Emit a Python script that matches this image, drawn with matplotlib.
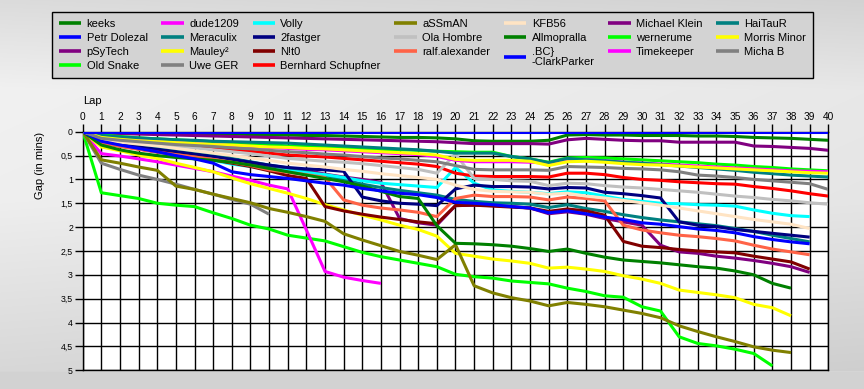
import numpy as np
import matplotlib
matplotlib.use("Agg")
import matplotlib.pyplot as plt

plt.rcParams['font.family'] = ['Liberation Sans', 'DejaVu Sans']

# ---------------- data ----------------
laps_label = "Lap"
y_label = "Gap (in mins)"
x_ticks = list(range(0, 41))
y_ticks = [0, 0.5, 1, 1.5, 2, 2.5, 3, 3.5, 4, 4.5, 5]
y_tick_labels = ["0", "0,5", "1", "1,5", "2", "2,5", "3", "3,5", "4", "4,5", "5"]

keeks = [0, 0.01, 0.02, 0.03, 0.03, 0.04, 0.04, 0.05, 0.05, 0.06, 0.07, 0.07, 0.08, 0.08, 0.09, 0.10, 0.11, 0.12, 0.12, 0.13,
         0.15, 0.19, 0.20, 0.20, 0.20, 0.18, 0.07, 0.06, 0.07, 0.07, 0.08, 0.08, 0.08, 0.09, 0.09, 0.10, 0.12, 0.13, 0.14, 0.16, 0.18]
petr_dolezal = [0, 0, 0, 0, 0, 0, 0, 0, 0, 0, 0, 0, 0, 0, 0, 0, 0, 0, 0, 0,
                0, 0, 0, 0, 0, 0, 0, 0, 0, 0, 0, 0, 0, 0, 0, 0, 0, 0, 0, 0, 0]
psytech = [0, 0.20, 0.29, 0.36, 0.42, 0.48, 0.54, 0.59, 0.64, 0.69, 0.73, 0.77, 0.81, 0.89, 0.95, 1.00, 1.06, 1.82, 1.91, 1.96,
           1.55, 1.54, 1.55, 1.57, 1.60, 1.72, 1.68, 1.73, 1.82, 1.89, 1.96, 2.38, 2.52, 2.55, 2.61, 2.65, 2.70, 2.76, 2.83, 2.95]
old_snake = [0, 1.28, 1.34, 1.40, 1.50, 1.54, 1.57, 1.70, 1.82, 1.96, 2.04, 2.17, 2.23, 2.29, 2.41, 2.53, 2.62, 2.69, 2.76, 2.83,
             2.99, 3.04, 3.07, 3.13, 3.16, 3.19, 3.28, 3.35, 3.44, 3.47, 3.67, 3.76, 4.30, 4.44, 4.49, 4.56, 4.65, 4.91]
dude1209 = [0, 0.46, 0.51, 0.57, 0.63, 0.70, 0.77, 0.84, 0.93, 1.02, 1.12, 1.20, 2.06, 2.93, 3.05, 3.12, 3.18]
meraculix = [0, 0.15, 0.22, 0.28, 0.33, 0.38, 0.44, 0.50, 0.56, 0.63, 0.70, 0.76, 0.84, 0.92, 1.00, 1.10, 1.17, 1.23, 1.28, 1.33,
             1.42, 1.46, 1.49, 1.50, 1.52, 1.59, 1.53, 1.61, 1.67, 1.74, 1.80, 1.85, 1.89, 1.93, 1.97, 2.03, 2.09, 2.17, 2.24, 2.31]
mauley = [0, 0.32, 0.40, 0.49, 0.56, 0.66, 0.75, 0.84, 0.97, 1.09, 1.19, 1.29, 1.40, 1.53, 1.64, 1.75, 1.85, 1.96, 2.05, 2.19,
          2.55, 2.61, 2.67, 2.71, 2.76, 2.86, 2.84, 2.88, 2.93, 3.02, 3.09, 3.18, 3.32, 3.37, 3.42, 3.48, 3.62, 3.69, 3.86]
uwe_ger = [0, 0.66, 0.79, 0.91, 1.00, 1.10, 1.21, 1.31, 1.42, 1.52, 1.73]
volly = [0, 0.20, 0.28, 0.34, 0.40, 0.46, 0.52, 0.60, 0.68, 0.73, 0.78, 0.82, 0.86, 0.90, 0.96, 1.03, 1.08, 1.11, 1.14, 1.17,
         0.75, 1.08, 1.22, 1.25, 1.27, 1.30, 1.26, 1.28, 1.35, 1.42, 1.46, 1.50, 1.51, 1.53, 1.54, 1.56, 1.64, 1.71, 1.76, 1.78]
twofastger = [0, 0.20, 0.27, 0.32, 0.37, 0.42, 0.47, 0.52, 0.58, 0.64, 0.70, 0.75, 0.78, 0.80, 0.83, 1.37, 1.45, 1.50, 1.52, 1.55,
              1.20, 1.12, 1.15, 1.15, 1.16, 1.20, 1.17, 1.18, 1.27, 1.30, 1.34, 1.39, 1.89, 1.96, 1.99, 2.05, 2.09, 2.13, 2.17, 2.21]
nit0 = [0, 0.22, 0.30, 0.36, 0.42, 0.48, 0.53, 0.59, 0.66, 0.73, 0.82, 0.92, 0.98, 1.57, 1.66, 1.73, 1.79, 1.84, 1.89, 1.93,
        1.55, 1.54, 1.56, 1.58, 1.60, 1.67, 1.62, 1.66, 1.75, 2.30, 2.40, 2.43, 2.47, 2.50, 2.52, 2.54, 2.61, 2.67, 2.73, 2.88]
bernhard = [0, 0.12, 0.17, 0.20, 0.24, 0.27, 0.30, 0.33, 0.37, 0.41, 0.45, 0.49, 0.51, 0.53, 0.56, 0.59, 0.62, 0.65, 0.68, 0.73,
            0.87, 0.93, 0.94, 0.94, 0.94, 0.95, 0.87, 0.87, 0.90, 0.96, 1.00, 1.02, 1.05, 1.07, 1.09, 1.10, 1.15, 1.19, 1.24, 1.30, 1.35]
assman = [0, 0.59, 0.66, 0.74, 0.81, 1.14, 1.21, 1.31, 1.40, 1.49, 1.61, 1.69, 1.78, 1.88, 2.14, 2.27, 2.39, 2.51, 2.59, 2.68,
          2.37, 3.23, 3.38, 3.48, 3.55, 3.65, 3.58, 3.62, 3.67, 3.74, 3.81, 3.90, 4.07, 4.19, 4.30, 4.40, 4.51, 4.58, 4.63]
ola_hombre = [0, 0.13, 0.18, 0.22, 0.26, 0.30, 0.34, 0.38, 0.42, 0.46, 0.51, 0.56, 0.59, 0.62, 0.64, 0.67, 0.71, 0.75, 0.79, 0.87,
              0.47, 0.98, 1.00, 1.03, 1.04, 1.13, 1.08, 1.09, 1.13, 1.16, 1.18, 1.21, 1.24, 1.27, 1.31, 1.35, 1.38, 1.42, 1.45, 1.49, 1.52]
ralf_alexander = [0, 0.24, 0.31, 0.37, 0.43, 0.48, 0.53, 0.58, 0.64, 0.71, 0.80, 0.85, 0.90, 0.96, 1.43, 1.54, 1.60, 1.64, 1.69, 1.78,
                  1.40, 1.33, 1.36, 1.36, 1.37, 1.43, 1.37, 1.40, 1.45, 1.96, 2.06, 2.12, 2.17, 2.20, 2.24, 2.29, 2.38, 2.46, 2.52, 2.58]
kfb56 = [0, 0.17, 0.22, 0.26, 0.30, 0.35, 0.40, 0.45, 0.50, 0.55, 0.60, 0.66, 0.70, 0.74, 0.79, 0.83, 0.88, 0.92, 0.96, 1.00,
         1.12, 1.21, 1.25, 1.26, 1.27, 1.31, 1.29, 1.35, 1.39, 1.44, 1.49, 1.54, 1.60, 1.66, 1.72, 1.78, 1.84, 1.89, 1.94, 2.03]
allmopralla = [0, 0.28, 0.38, 0.45, 0.50, 0.54, 0.57, 0.60, 0.64, 0.70, 0.77, 0.84, 0.91, 0.98, 1.05, 1.14, 1.25, 1.36, 1.40, 1.97,
               2.34, 2.35, 2.37, 2.40, 2.45, 2.51, 2.46, 2.55, 2.63, 2.69, 2.72, 2.75, 2.79, 2.83, 2.86, 2.92, 3.00, 3.18, 3.28]
clarkparker = [0, 0.20, 0.28, 0.35, 0.42, 0.50, 0.57, 0.66, 0.84, 0.90, 0.94, 0.98, 1.03, 1.08, 1.12, 1.19, 1.24, 1.29, 1.32, 1.38,
               1.48, 1.50, 1.53, 1.57, 1.60, 1.70, 1.66, 1.72, 1.79, 1.84, 1.91, 1.94, 1.99, 2.04, 2.07, 2.12, 2.20, 2.26, 2.31, 2.35]
michael_klein = [0, 0.03, 0.04, 0.05, 0.06, 0.07, 0.08, 0.09, 0.10, 0.11, 0.12, 0.13, 0.14, 0.15, 0.16, 0.17, 0.18, 0.19, 0.20, 0.21,
                 0.23, 0.25, 0.25, 0.25, 0.25, 0.26, 0.17, 0.14, 0.16, 0.18, 0.19, 0.19, 0.22, 0.22, 0.22, 0.22, 0.30, 0.31, 0.33, 0.35, 0.39]
wernerume = [0, 0.07, 0.10, 0.13, 0.15, 0.17, 0.19, 0.21, 0.23, 0.25, 0.27, 0.30, 0.31, 0.32, 0.34, 0.36, 0.37, 0.38, 0.39, 0.41,
             0.42, 0.43, 0.43, 0.52, 0.57, 0.64, 0.55, 0.54, 0.55, 0.57, 0.59, 0.61, 0.63, 0.65, 0.68, 0.70, 0.73, 0.75, 0.78, 0.80, 0.82]
timekeeper = [0, 0.10, 0.14, 0.18, 0.21, 0.23, 0.25, 0.27, 0.29, 0.31, 0.33, 0.35, 0.37, 0.38, 0.40, 0.42, 0.44, 0.46, 0.48, 0.52,
              0.60, 0.63, 0.63, 0.63, 0.64, 0.66, 0.60, 0.59, 0.61, 0.64, 0.66, 0.68, 0.70, 0.72, 0.74, 0.76, 0.78, 0.80, 0.82, 0.83, 0.84]
haitaur = [0, 0.08, 0.11, 0.13, 0.15, 0.17, 0.18, 0.20, 0.21, 0.22, 0.23, 0.24, 0.26, 0.28, 0.30, 0.32, 0.34, 0.36, 0.38, 0.41,
           0.45, 0.45, 0.45, 0.52, 0.57, 0.65, 0.56, 0.59, 0.61, 0.64, 0.66, 0.69, 0.72, 0.75, 0.78, 0.81, 0.85, 0.88, 0.91, 0.93, 0.95]
morris_minor = [0, 0.12, 0.16, 0.19, 0.21, 0.23, 0.25, 0.27, 0.28, 0.30, 0.32, 0.33, 0.35, 0.36, 0.38, 0.40, 0.42, 0.44, 0.46, 0.49,
                0.58, 0.60, 0.60, 0.60, 0.62, 0.71, 0.63, 0.62, 0.64, 0.67, 0.69, 0.70, 0.72, 0.74, 0.76, 0.78, 0.80, 0.82, 0.84, 0.86, 0.87]
micha_b = [0, 0.14, 0.18, 0.21, 0.24, 0.27, 0.29, 0.31, 0.34, 0.36, 0.39, 0.42, 0.44, 0.47, 0.49, 0.52, 0.55, 0.57, 0.60, 0.63,
           0.71, 0.79, 0.80, 0.80, 0.80, 0.81, 0.73, 0.74, 0.75, 0.77, 0.78, 0.80, 0.84, 0.91, 0.93, 0.96, 1.00, 1.03, 1.06, 1.09, 1.21]

names = ["keeks", "Petr Dolezal", "pSyTech", "Old Snake",
         "dude1209", "Meraculix", "Mauley²", "Uwe GER",
         "Volly", "2fastger", "N!t0", "Bernhard Schupfner",
         "aSSmAN", "Ola Hombre", "ralf.alexander",
         "KFB56", "Allmopralla", ".BC}\n-ClarkParker",
         "Michael Klein", "wernerume", "Timekeeper",
         "HaiTauR", "Morris Minor", "Micha B"]
series = [keeks, petr_dolezal, psytech, old_snake,
          dude1209, meraculix, mauley, uwe_ger,
          volly, twofastger, nit0, bernhard,
          assman, ola_hombre, ralf_alexander,
          kfb56, allmopralla, clarkparker,
          michael_klein, wernerume, timekeeper,
          haitaur, morris_minor, micha_b]
colors = ["#008000", "#0000FF", "#800080", "#00FF00",
          "#FF00FF", "#008080", "#FFFF00", "#808080",
          "#00FFFF", "#000080", "#800000", "#FF0000",
          "#808000", "#C0C0C0", "#FF6347",
          "#FFE4C4", "#008000", "#0000FF",
          "#800080", "#00FF00", "#FF00FF",
          "#008080", "#FFFF00", "#808080"]

# ---------------- figure ----------------
W, H = 864, 389
fig = plt.figure(figsize=(W / 100, H / 100), dpi=100)

# background gradient
bg = fig.add_axes([0, 0, 1, 1], zorder=-10)
yy = np.arange(H)
vert = np.interp(yy, [0, 90, 200, 370, 372, 389], [0.86, 0.945, 0.935, 0.845, 0.827, 0.827])
xx = np.arange(W)
img = vert[:, None] - 0.035 * (xx[None, :] / W) * (yy[:, None] < 371)
img = np.clip(img, 0, 1)
bg.imshow(np.dstack([img, img, img]), aspect='auto', extent=[0, 1, 0, 1], interpolation='bilinear')
bg.set_axis_off()

x0, x1 = 82.7, 828.3
y0, y1 = 131.7, 370.2
ax = fig.add_axes([x0 / W, 1 - y1 / H, (x1 - x0) / W, (y1 - y0) / H])
ax.set_facecolor('white')

handles = []
for i, (name, vals, col) in enumerate(zip(names, series, colors)):
    z = 5 if name == "Petr Dolezal" else 3
    h, = ax.plot(range(len(vals)), vals, color=col, lw=2.2, label=name, zorder=z,
                 solid_joinstyle='round', solid_capstyle='butt')
    handles.append(h)

ax.set_xlim(0, 40)
ax.set_ylim(5, 0)
ax.xaxis.tick_top()
ax.set_xticks(x_ticks)
ax.set_xticklabels([str(t) for t in x_ticks], fontsize=7.3)
ax.set_yticks(y_ticks)
ax.set_yticklabels(y_tick_labels, fontsize=6.3)
ax.tick_params(axis='both', direction='out', length=5.5, width=1.0, color='black', pad=1.5)
ax.grid(True, color='black', lw=1.0)
ax.set_axisbelow(True)
for s in ax.spines.values():
    s.set_color('black')
    s.set_linewidth(1.0)

fig.text(x0 / W, 1 - 101 / H, laps_label, fontsize=8, ha='left', va='center')
fig.text(40 / W, 1 - 165 / H, y_label, fontsize=8, ha='center', va='center', rotation=90)

leg = fig.legend(handles=handles, labels=names, ncol=7,
                 loc='upper left',
                 bbox_to_anchor=(52 / W, 1 - 80 / H, (813 - 52) / W, (80 - 12) / H),
                 bbox_transform=fig.transFigure, mode='expand',
                 fontsize=8.0, frameon=True, fancybox=False, framealpha=1,
                 facecolor='#d3d3d3', edgecolor='black',
                 handlelength=2.0, handletextpad=0.5, columnspacing=0.8,
                 labelspacing=0.36, borderpad=0.62, borderaxespad=0)
leg.get_frame().set_linewidth(1.0)
for line in leg.get_lines():
    line.set_linewidth(2.6)
for t in leg.get_texts():
    t.set_linespacing(1.05)

fig.savefig("out.png", dpi=100)
